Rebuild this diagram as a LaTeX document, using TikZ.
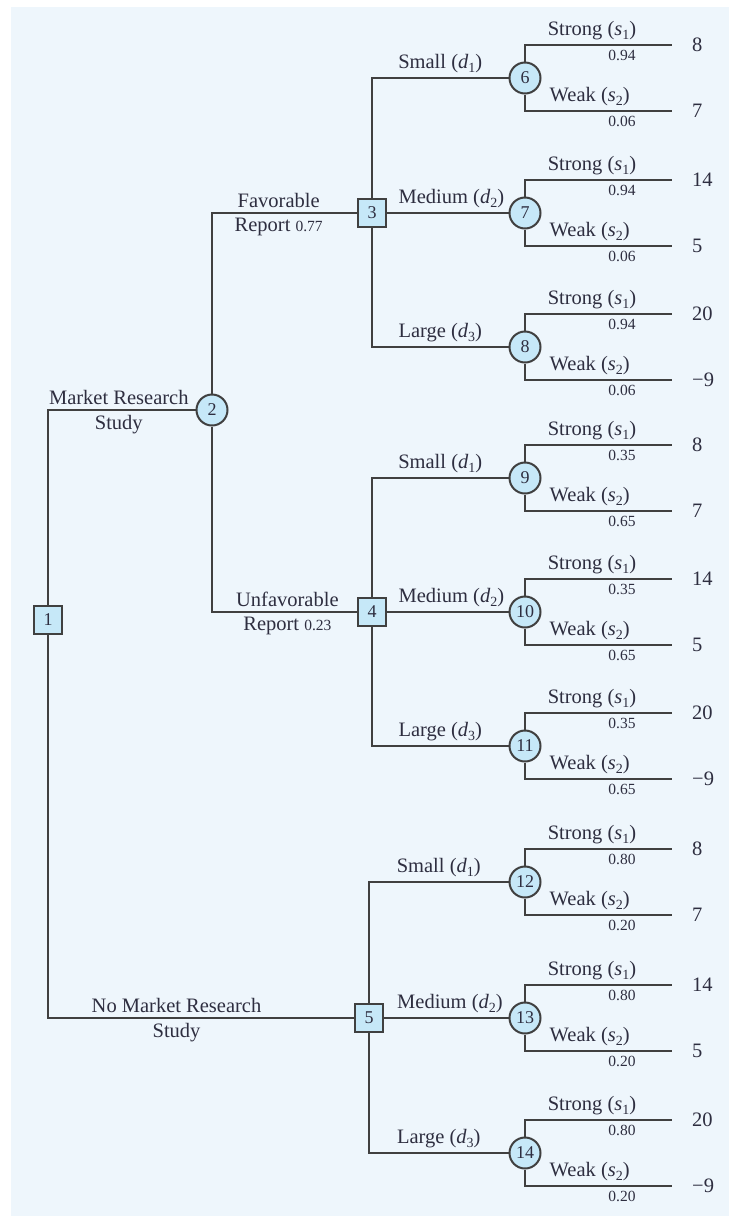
\documentclass[tikz,border=0pt]{standalone}
\usepackage{fontspec}
\setmainfont{Liberation Serif}
\definecolor{bgblue}{HTML}{EEF6FC}
\definecolor{nodeblue}{HTML}{C6E8F8}
\definecolor{linegray}{HTML}{404040}
\definecolor{textgray}{HTML}{2E2E40}
\newcommand{\lowidx}[2]{\textit{#1}\raisebox{-0.45ex}{\fontsize{14}{14}\selectfont #2}}
\tikzset{
  decision/.style={rectangle,draw=linegray,fill=nodeblue,line width=2pt,
    minimum size=28pt,inner sep=0pt,text=textgray,font=\fontsize{18}{18}\selectfont},
  chance/.style={circle,draw=linegray,fill=nodeblue,line width=2pt,
    minimum size=31pt,inner sep=0pt,text=textgray,font=\fontsize{18}{18}\selectfont},
  branch/.style={draw=linegray,line width=2.4pt},
  lab/.style={text=textgray,font=\fontsize{20.5}{22}\selectfont,inner sep=4pt},
  prob/.style={text=textgray,font=\fontsize{15.5}{17}\selectfont,inner sep=4pt},
}

\begin{document}
\begin{tikzpicture}[x=1pt,y=-1pt]
  \useasboundingbox (0,0) rectangle (729,1216);
  \fill[bgblue] (11,7) rectangle (729,1216);
  % decision nodes and the first chance node
  \node[decision] (d1) at (48,620) {1};
  \node[chance] (c2) at (212,410) {2};
  \node[decision] (d3) at (372,213) {3};
  \node[decision] (d4) at (372,612) {4};
  \node[decision] (d5) at (369,1018) {5};
  % study or not
  \draw[branch] (d1) |- (c2)
    node[lab,above,pos=0.74] (mrs) {Market Research}
    node[lab,below,pos=0.74] (mrt) {Study};
  \draw[branch] (d1) |- (d5)
    node[lab,above,pos=0.71] (nms) {No Market Research}
    node[lab,below,pos=0.71] (nmt) {Study};
  % report outcomes
  \draw[branch] (c2) |- (d3)
    node[lab,above,pos=0.73] (fav) {Favorable}
    node[lab,below,pos=0.73] (favp) {Report {\fontsize{15.5}{17}\selectfont 0.77}};
  \draw[branch] (c2) |- (d4)
    node[lab,above,pos=0.76] (unf) {Unfavorable}
    node[lab,below,pos=0.76] (unfp) {Report {\fontsize{15.5}{17}\selectfont 0.23}};
  % chance nodes with strong / weak demand
  \foreach \n/\y/\ps/\pw/\vs/\vw in {6/78/0.94/0.06/8/7,7/213/0.94/0.06/14/5,
      8/347/0.94/0.06/20/−9,9/478/0.35/0.65/8/7,10/612/0.35/0.65/14/5,
      11/746/0.35/0.65/20/−9,12/882/0.80/0.20/8/7,13/1018/0.80/0.20/14/5,
      14/1153/0.80/0.20/20/−9}{
    \node[chance] (c\n) at (525,\y) {\n};
    \coordinate (s\n) at (672,\y-33);
    \coordinate (w\n) at (672,\y+33);
    \draw[branch] (c\n) |- (s\n)
      node[lab,above,pos=0.728] (sl\n) {Strong (\lowidx{s}{1})}
      node[prob,below,pos=0.83] (sp\n) {\ps};
    \draw[branch] (c\n) |- (w\n)
      node[lab,above,pos=0.72] (wl\n) {Weak (\lowidx{s}{2})}
      node[prob,below,pos=0.83] (wp\n) {\pw};
    \node[lab,anchor=west] (sv\n) at ([xshift=16pt]s\n) {\vs};
    \node[lab,anchor=west] (wv\n) at ([xshift=16pt]w\n) {\vw};
  }
  % plant size decisions
  \foreach \d/\a/\b/\c in {3/6/7/8,4/9/10/11,5/12/13/14}{
    \draw[branch] (d\d) |- (c\a) node[lab,above,pos=0.75] (sm\d) {Small (\lowidx{d}{1})};
    \draw[branch] (d\d) -- (c\b) node[lab,above,pos=0.53] (md\d) {Medium (\lowidx{d}{2})};
    \draw[branch] (d\d) |- (c\c) node[lab,above,pos=0.75] (lg\d) {Large (\lowidx{d}{3})};
  }
\end{tikzpicture}
\end{document}
